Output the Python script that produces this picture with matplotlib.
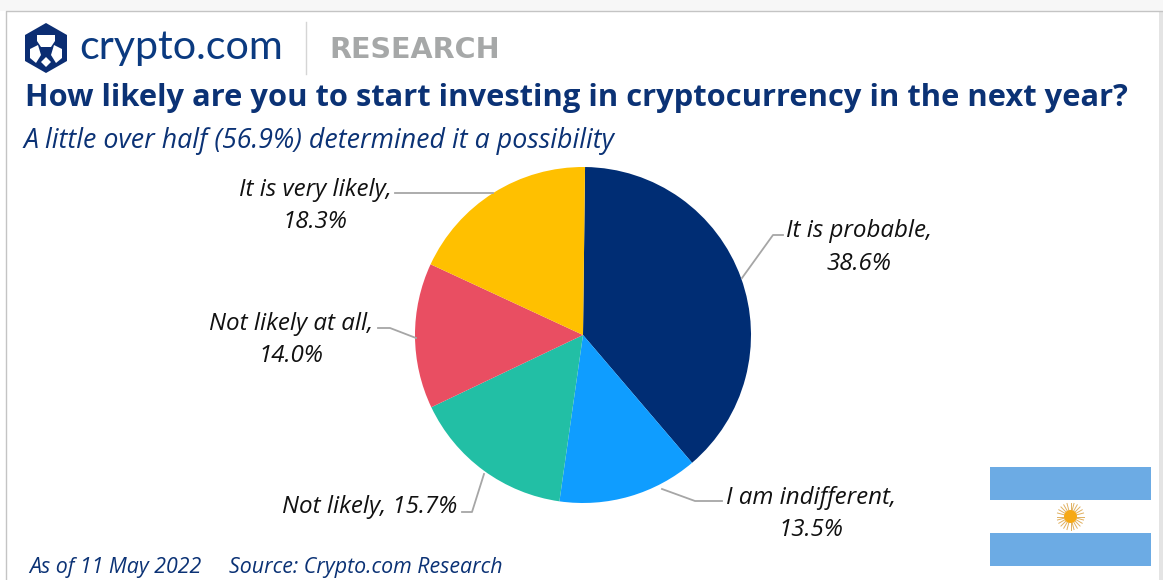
import numpy as np
import matplotlib
matplotlib.use('Agg')
from matplotlib import pyplot as plt
from matplotlib.patches import Polygon, Rectangle, Circle

labels = ['It is probable', 'I am indifferent', 'Not likely', 'Not likely at all', 'It is very likely']
values = [38.6, 13.5, 15.7, 14.0, 18.3]
colors = ['#002d74', '#0f9dff', '#22bfa5', '#e94e62', '#ffc000']

navy = '#0b3275'
plt.rcParams['font.family'] = ['Open Sans', 'DejaVu Sans']

fig = plt.figure(figsize=(11.63, 5.8), dpi=100, facecolor='white')
ax = fig.add_axes([0, 0, 1, 1])
ax.set_xlim(0, 1163)
ax.set_ylim(580, 0)
ax.axis('off')

# card border
ax.add_patch(Rectangle((-5, 0), 1180, 10.5, fc='#f7f7f7', ec='none'))
ax.plot([5.5, 5.5, 1163], [580, 10.5, 10.5], color='#c4c4c4', lw=1)
ax.add_patch(Rectangle((1159, 11), 5, 570, fc='#e4e4e4', ec='none'))

# logo
hexagon = [(46, 23), (67, 35), (67, 61), (46, 73), (25, 61), (25, 35)]
ax.add_patch(Polygon(hexagon, fc='#0b2d72', ec='none'))
ax.add_patch(Polygon([(37, 35), (55, 35), (55, 41), (51, 47), (41, 47), (37, 41)], fc='white', ec='none'))
ax.add_patch(Polygon([(30, 49), (38, 45), (41, 55), (36, 63), (30, 58)], fc='white', ec='none'))
ax.add_patch(Polygon([(62, 49), (54, 45), (51, 55), (56, 63), (62, 58)], fc='white', ec='none'))
ax.add_patch(Polygon([(41, 62), (46, 57), (51, 62), (46, 67)], fc='white', ec='none'))
ax.text(79, 48, 'crypto.com', fontsize=29.7, color='#0b3a80', ha='left', va='center', family=['Lato', 'DejaVu Sans'])
ax.plot([305.5, 305.5], [22, 74], color='#d5d5d5', lw=1)
ax.text(329, 50, 'RESEARCH', fontsize=20.6, fontweight='bold', color='#a6a8a8', ha='left', va='center',
        family=['DejaVu Sans'])

ax.text(25, 98, 'How likely are you to start investing in cryptocurrency in the next year?',
        fontsize=22.26, fontweight='bold', color=navy, ha='left', va='center')
ax.text(24, 141, 'A little over half (56.9%) determined it a possibility',
        fontsize=19.3, style='italic', color=navy, ha='left', va='center')

# pie, y axis is inverted so angles run clockwise on screen
ax.pie(values, colors=colors, startangle=-89.3, counterclock=True, center=(583, 335),
       radius=168, frame=True, wedgeprops=dict(edgecolor='none'))
ax.set_xlim(0, 1163)
ax.set_ylim(580, 0)
ax.axis('off')

# leader lines
leader = '#a6a6a6'
ax.plot([742, 773, 783], [278, 235, 235], color=leader, lw=1.3)
ax.plot([662, 695, 722], [489, 501, 501], color=leader, lw=1.3)
ax.plot([484, 472, 462], [474, 512, 512], color=leader, lw=1.3)
ax.plot([416, 390, 378], [338, 328, 328], color=leader, lw=1.3)
ax.plot([493, 410, 395], [193, 193, 193], color=leader, lw=1.3)

# labels
lab = dict(fontsize=17.4, style='italic', color='#111111', va='center', linespacing=1.47)
ax.text(859, 247.5, labels[0] + ',\n38.6%', ha='center', **lab)
ax.text(811, 514, labels[1] + ',\n13.5%', ha='center', **lab)
ax.text(457, 507, labels[2] + ', 15.7%', ha='right', **lab)
ax.text(291, 340, labels[3] + ',\n14.0%', ha='center', **lab)
ax.text(315, 206, labels[4] + ',\n18.3%', ha='center', **lab)

ax.text(29, 568, 'As of 11 May 2022', fontsize=15.4, style='italic', color=navy, ha='left', va='center')
ax.text(229, 568, 'Source: Crypto.com Research', fontsize=15.4, style='italic', color=navy, ha='left', va='center')

# flag
ax.add_patch(Rectangle((990, 467), 161, 33, fc='#6cabe4', ec='none'))
ax.add_patch(Rectangle((990, 533), 161, 33, fc='#6cabe4', ec='none'))
for a in np.arange(0, 360, 15):
    t = np.radians(a)
    ax.plot([1070.5, 1070.5 + 13.5 * np.cos(t)], [516.5, 516.5 + 13.5 * np.sin(t)],
            color='#e0b060', lw=0.7)
ax.add_patch(Circle((1070.5, 516.5), 6.5, fc='#f6a915', ec='none', zorder=3))

fig.savefig('out.png', dpi=100)
